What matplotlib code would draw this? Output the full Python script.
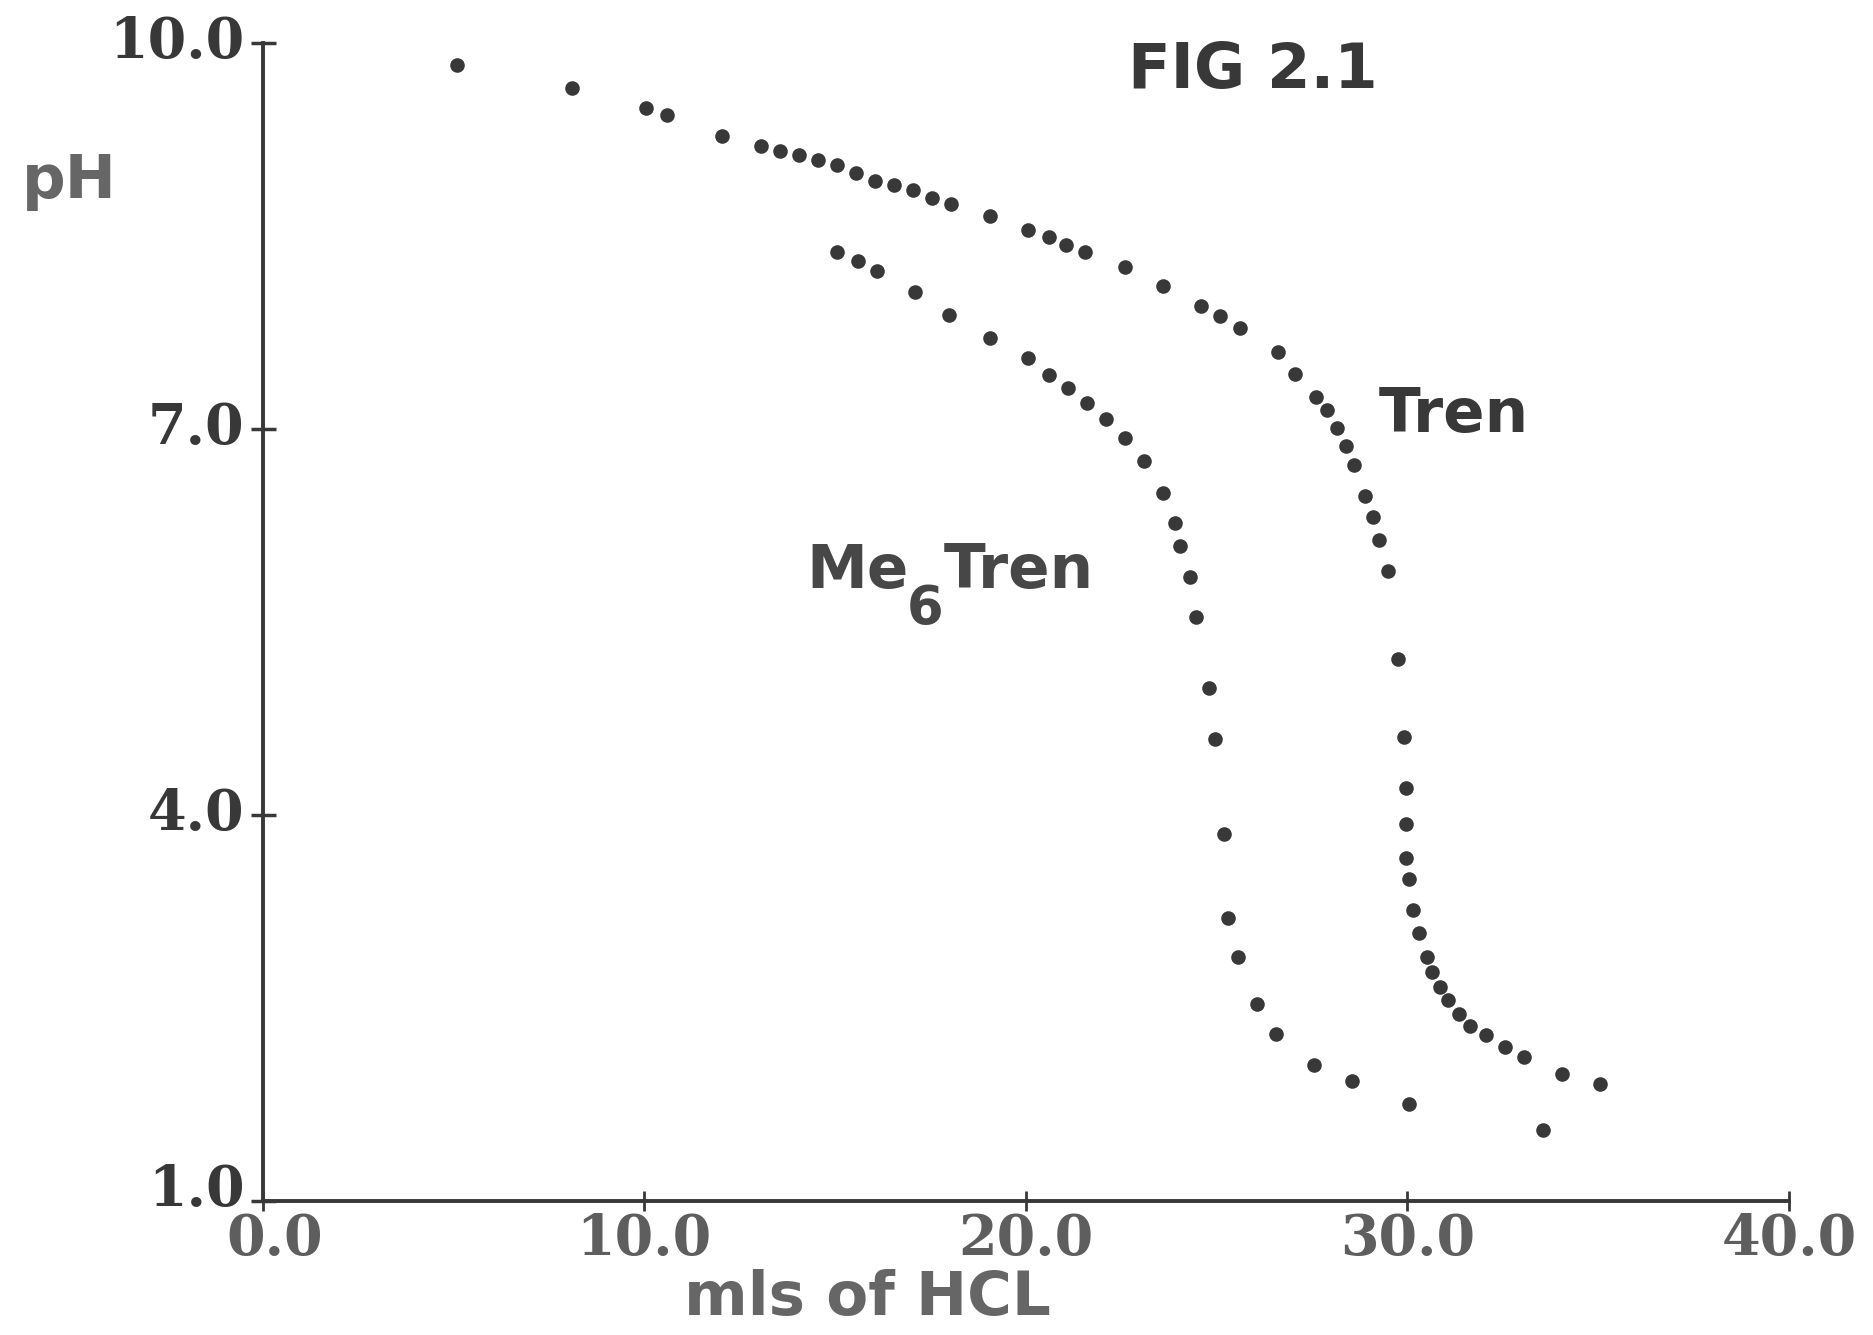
import numpy as np
import matplotlib.pyplot as plt
from matplotlib.transforms import ScaledTranslation

# titration data (mls of HCl, pH)
tren_ml = [5.1, 8.1, 10.05, 10.6, 12.05, 13.05, 13.55, 14.05, 14.55, 15.05,
           15.55, 16.05, 16.55, 17.05, 17.55, 18.05, 19.05, 20.05, 20.6, 21.05,
           21.55, 22.6, 23.6, 24.6, 25.1, 25.6, 26.6, 27.05, 27.6, 27.9,
           28.15, 28.4, 28.6, 28.9, 29.1, 29.25, 29.5, 29.75, 29.9, 29.95,
           29.95, 29.95, 30.05, 30.15, 30.3, 30.5, 30.65, 30.85, 31.05, 31.35,
           31.65, 32.05, 32.55, 33.05, 34.05, 35.05]
tren_ph = [9.83, 9.65, 9.50, 9.44, 9.28, 9.20, 9.16, 9.13, 9.09, 9.05,
           8.99, 8.93, 8.90, 8.86, 8.80, 8.75, 8.66, 8.55, 8.49, 8.43,
           8.38, 8.26, 8.11, 7.96, 7.88, 7.79, 7.60, 7.43, 7.25, 7.15,
           7.01, 6.87, 6.72, 6.48, 6.32, 6.14, 5.90, 5.21, 4.61, 4.21,
           3.93, 3.67, 3.50, 3.26, 3.08, 2.90, 2.78, 2.66, 2.56, 2.45,
           2.36, 2.29, 2.20, 2.12, 1.99, 1.91]

me6_ml = [15.05, 15.6, 16.1, 17.1, 18.0, 19.05, 20.05, 20.6, 21.1, 21.6,
          22.1, 22.6, 23.1, 23.6, 23.9, 24.05, 24.3, 24.45, 24.8, 24.95,
          25.2, 25.3, 25.55, 26.05, 26.55, 27.55, 28.55, 30.05, 33.55]
me6_ph = [8.38, 8.31, 8.23, 8.07, 7.89, 7.71, 7.55, 7.42, 7.32, 7.20,
          7.08, 6.93, 6.75, 6.50, 6.27, 6.09, 5.85, 5.54, 4.99, 4.59,
          3.85, 3.20, 2.90, 2.53, 2.30, 2.06, 1.93, 1.75, 1.55]

x_ticks = [0, 10, 20, 30, 40]
y_ticks = [1, 4, 7, 10]

dark = '#383838'
grey = '#5e5e5e'

fig = plt.figure(figsize=(18.74, 13.35), dpi=100)
ax = fig.add_axes([0.1401, 0.1004, 0.8146, 0.8672])

ax.plot(tren_ml, tren_ph, 'o', color=dark, markersize=10.5, markeredgewidth=0)
ax.plot(me6_ml, me6_ph, 'o', color=dark, markersize=10.5, markeredgewidth=0)

ax.set_xlim(0, 40)
ax.set_ylim(1, 10)
ax.spines['top'].set_visible(False)
ax.spines['right'].set_visible(False)
for s in ['left', 'bottom']:
    ax.spines[s].set_linewidth(2.8)
    ax.spines[s].set_color(dark)

ax.set_xticks(x_ticks)
ax.set_xticklabels(['%.1f' % v for v in x_ticks])
ax.set_yticks(y_ticks)
ax.set_yticklabels(['%.1f' % v for v in y_ticks])
ax.tick_params(axis='x', direction='inout', length=15, width=2, color=dark,
               pad=0.5, labelsize=40, labelcolor=grey)
ax.tick_params(axis='y', direction='inout', length=18, width=2.5, color=dark,
               pad=4, labelsize=40, labelcolor=dark)
for lab in ax.get_xticklabels() + ax.get_yticklabels():
    lab.set_family('DejaVu Serif')
    lab.set_weight('bold')

# the typed labels sit a little above their ticks; 1.0 and 0.0 are nudged apart
for lab in ax.get_yticklabels():
    dy = 12 if lab.get_text() == '1.0' else 5
    lab.set_transform(lab.get_transform() + ScaledTranslation(0, dy / 72, fig.dpi_scale_trans))
xlab0 = ax.get_xticklabels()[0]
xlab0.set_transform(xlab0.get_transform() + ScaledTranslation(9 / 72, 0, fig.dpi_scale_trans))

# labels and annotations (figure fraction coords)
sans = dict(family='DejaVu Sans', weight='bold')
fig.text(0.0115, 0.852, 'pH', fontsize=44, color='#666666', va='baseline', **sans)
fig.text(0.365, 0.0152, 'mls of HCL', fontsize=44, color='#666666', va='baseline', **sans)
fig.text(0.602, 0.934, 'FIG 2.1', fontsize=45, color=dark, va='baseline', **sans)
fig.text(0.7359, 0.6764, 'Tren', fontsize=44, color=dark, va='baseline', **sans)
fig.text(0.4305, 0.5593, 'Me', fontsize=44, color='#474747', va='baseline', **sans)
fig.text(0.4838, 0.5635, '6', fontsize=38, color='#474747', va='top', **sans)
fig.text(0.5034, 0.5593, 'Tren', fontsize=44, color='#474747', va='baseline', **sans)

fig.savefig('out.png', dpi=100)
